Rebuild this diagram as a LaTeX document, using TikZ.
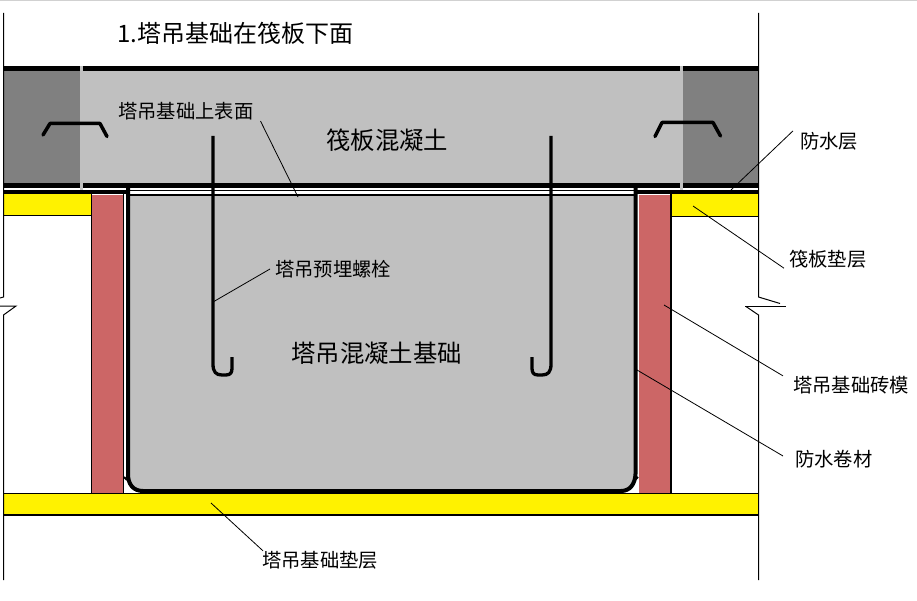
\documentclass[tikz,border=0pt]{standalone}
\usepackage{fontspec}
\setmainfont{Noto Sans CJK SC}
\definecolor{concrete}{HTML}{C0C0C0}
\definecolor{concretedark}{HTML}{808080}
\definecolor{brick}{HTML}{CC6666}
\tikzset{
  lbl/.style={inner sep=0pt,font=\fontsize{19.3}{22}\selectfont},
  biglbl/.style={inner sep=0pt,font=\fontsize{24.4}{28}\selectfont},
  leader/.style={draw,line width=0.8pt},
  bar/.style={draw,line width=3.3pt,line join=round}
}
\begin{document}
\begin{tikzpicture}[x=1pt,y=-1pt]
\useasboundingbox (0,0) rectangle (917,601);
% top edge of the page
\fill [color=black!18] (0,0) rectangle (917,1.5);

% raft slab
\fill [color=concrete] (80,70) rectangle (680,184);
\fill [color=concretedark] (3,70) rectangle (80,184);
\fill [color=concretedark] (683,70) rectangle (758,184);
\fill [color=black] (3,66) rectangle (758,70.7);
\fill [color=black] (3,183) rectangle (758,188);
\fill [color=black] (3,190) rectangle (126,194);
\fill [color=black] (634,190) rectangle (758,194);
% light strips through the slab
\fill [color=concrete] (79.5,66) rectangle (82.7,190.5);
\fill [color=concrete] (679.5,66) rectangle (683,190.5);

% raft blinding
\draw [fill=yellow,line width=1pt] (3,194) -- (91.5,194) -- (91.5,215.5) -- (3,215.5);
\draw [fill=yellow,line width=1pt] (758,194) -- (671.5,194) -- (671.5,216.5) -- (758,216.5);

% bottom blinding
\fill [color=yellow] (3,493) rectangle (758,515);
\draw [line width=1.5pt] (3,493.5) -- (758,493.5);
\draw [line width=1.5pt] (3,515) -- (758,515);

% brick walls
\fill [color=brick] (92,195) rectangle (123,493);
\fill [color=brick] (638.5,195) rectangle (671,493);
\draw [line width=1pt] (91.5,194) -- (91.5,493);
\draw [line width=1pt] (123.3,194) -- (123.3,493);
\draw [line width=2pt] (671,194) -- (671,493);

% tower crane foundation
\fill [color=concrete] (128,195) -- (128,474) .. controls (128,484) and (133,491) .. (143,491) -- (621,491) .. controls (630,491) and (635,484) .. (635.5,474) -- (635.5,195) -- cycle;
\draw [line width=4pt] (128,188) -- (128,474) .. controls (128,484) and (133,491) .. (143,491) -- (621,491) .. controls (630,491) and (635,484) .. (635.5,474) -- (635.5,188);
\draw [line width=1pt] (129,191) -- (634,191);
\draw [line width=1.5pt] (129,194.8) -- (634,194.8);
\draw [line width=2pt] (124,477) -- (127,480);
\draw [line width=2pt] (638,477) -- (635,480);

% stirrups
\draw [bar,line width=3.5pt,line cap=round] (43,135) -- (50,123.5) -- (100,123.5) -- (107,136.5);
\draw [bar,line width=3.5pt,line cap=round] (655,136.5) -- (662,122.5) -- (713,122.5) -- (720.5,136);

% anchor bolts
\draw [bar] (213,136) -- (213,364) .. controls (213,372) and (216,375) .. (222,375) -- (226,375) .. controls (231,375) and (232,372) .. (232,368) -- (232,357);
\draw [bar] (551,136) -- (551,364) .. controls (551,372) and (548,375) .. (542,375) -- (538,375) .. controls (533,375) and (532,372) .. (532,368) -- (532,357);

% side lines and breaks
\draw [line width=1pt] (3.5,13) -- (3.5,297) -- (0,298);
\draw [line width=1pt] (0,306) -- (16,306) -- (3.5,315) -- (3.5,580);
\draw [line width=1pt] (758.5,13) -- (758.5,297) -- (780,303.5);
\draw [line width=1pt] (745,306) -- (786,306);
\draw [line width=1pt] (746,306.5) -- (758.5,315) -- (758.5,580);

% labels
\node [anchor=west,inner sep=0pt,font=\fontsize{24}{28}\selectfont] (title) at (117,33) {1.塔吊基础在筏板下面};
\node [lbl,anchor=west] (topface) at (118,111) {塔吊基础上表面};
\node [biglbl,anchor=west] (raftconc) at (326,140) {筏板混凝土};
\node [lbl,anchor=west] (waterproof) at (800,141) {防水层};
\node [lbl,anchor=west] (raftbed) at (789,259) {筏板垫层};
\node [lbl,anchor=west] (bolt) at (275,269) {塔吊预埋螺栓};
\node [biglbl,anchor=west] (craneconc) at (291,353) {塔吊混凝土基础};
\node [lbl,anchor=west] (brickform) at (793,385) {塔吊基础砖模};
\node [lbl,anchor=west] (membrane) at (795,459) {防水卷材};
\node [lbl,anchor=west] (cranebed) at (262,560) {塔吊基础垫层};

% leader ends
\coordinate (topfaceend) at (298,197);
\coordinate (waterproofend) at (731,190);
\coordinate (raftbedend) at (693,206);
\coordinate (boltend) at (213,302);
\coordinate (brickformend) at (664,305);
\coordinate (membraneend) at (637,370);
\coordinate (cranebedend) at (211,503);

% leaders
\draw [leader] ([shift={(7,1)}]topface.south east) -- (topfaceend);
\draw [leader] ([shift={(-7,-1)}]waterproof.north west) -- (waterproofend);
\draw [leader] ([xshift=-5pt]raftbed.south west) -- (raftbedend);
\draw [leader] ([xshift=-5pt]bolt.west) -- (boltend);
\draw [leader] ([xshift=-10pt]brickform.north west) -- (brickformend);
\draw [leader] ([xshift=-12pt,yshift=3pt]membrane.west) -- (membraneend);
\draw [leader] ([xshift=1pt]cranebed.north west) -- (cranebedend);
\end{tikzpicture}
\end{document}
